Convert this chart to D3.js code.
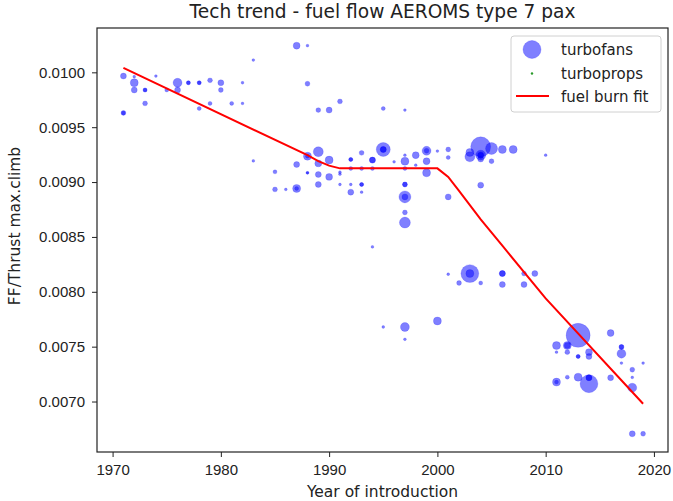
<!DOCTYPE html>
<html>
<head>
<meta charset="utf-8">
<script src="https://cdn.jsdelivr.net/npm/d3@7"></script>
<style>
  body { margin: 0; background: #fff; }
  svg { font-family: "DejaVu Sans", sans-serif; }
  .tick text { font-size: 15px; fill: #222; }
  .tick line { stroke: #222; }
</style>
</head>
<body>
<div id="chart"></div>
<script>
(function(d3) {
  'use strict';

  // turbofans: year of introduction, FF/Thrust at max climb, bubble size
  var tfYear = [
    1971, 1971, 1971, 1972, 1972, 1972, 1973, 1973, 1973, 1974, 1975, 1976, 1976,
    1977, 1977, 1978, 1978, 1978, 1979, 1979, 1980, 1980, 1981, 1982, 1982, 1983, 1983,
    1985, 1985, 1986, 1987, 1987, 1987, 1987, 1988, 1988, 1988, 1988, 1988, 1988,
    1989, 1989, 1989, 1989, 1989, 1990, 1990, 1990, 1991, 1991, 1991, 1991,
    1992, 1992, 1992, 1992, 1992, 1993, 1993, 1993, 1993, 1993,
    1994, 1994, 1994, 1994, 1995, 1995, 1995, 1995, 1995, 1996,
    1997, 1997, 1997, 1997, 1997, 1997, 1997, 1997, 1997, 1997, 1997, 1997,
    1998, 1998, 1999, 1999, 1999, 1999, 2000, 2000,
    2001, 2001, 2001, 2001, 2002, 2003, 2003, 2003, 2003,
    2004, 2004, 2004, 2004, 2004, 2004, 2004, 2005, 2005,
    2006, 2006, 2006, 2006, 2007, 2008, 2008, 2009, 2010,
    2011, 2011, 2011, 2011, 2012, 2012, 2012, 2012, 2013, 2013, 2013, 2013,
    2014, 2014, 2014, 2014, 2014, 2016, 2016, 2017, 2017, 2017, 2017,
    2018, 2018, 2018, 2018, 2019, 2019
  ];
  var tfFF = [
    0.009966, 0.00963, 0.00963, 0.009905, 0.00996, 0.009839, 0.009839, 0.009839, 0.009717, 0.009966, 0.009839, 0.009905, 0.009839,
    0.009905, 0.009905, 0.009905, 0.009905, 0.00967, 0.009927, 0.009717, 0.009905, 0.009839, 0.009717, 0.009905, 0.009717, 0.010112, 0.009193,
    0.009093, 0.008933, 0.008933, 0.010243, 0.00916, 0.008942, 0.008942, 0.010243, 0.009896, 0.009236, 0.009236, 0.009084, 0.009084,
    0.009656, 0.009276, 0.00917, 0.009069, 0.008978, 0.009656, 0.0092, 0.009047, 0.009735, 0.00909, 0.009072, 0.008978,
    0.009206, 0.009206, 0.009124, 0.008978, 0.008908, 0.009266, 0.009124, 0.008978, 0.008978, 0.008908,
    0.0092, 0.0092, 0.009124, 0.008409, 0.00967, 0.009297, 0.009297, 0.009297, 0.007679, 0.009184,
    0.009656, 0.00919, 0.009245, 0.008978, 0.008978, 0.008865, 0.008865, 0.008723, 0.008631, 0.007679, 0.007567, 0.009124,
    0.009245, 0.009154, 0.009285, 0.009285, 0.00919, 0.009084, 0.009282, 0.007734,
    0.009297, 0.009224, 0.008865, 0.00816, 0.00808, 0.00923, 0.00927, 0.008166, 0.008166,
    0.009321, 0.009245, 0.009245, 0.009245, 0.00921, 0.008972, 0.00808, 0.009306, 0.00919,
    0.009297, 0.008166, 0.008166, 0.008066, 0.009297, 0.008166, 0.008066, 0.008166, 0.009245,
    0.00751, 0.00745, 0.007177, 0.007177, 0.00751, 0.00751, 0.00745, 0.007222, 0.007603, 0.007411, 0.007411, 0.007222,
    0.00745, 0.007411, 0.007217, 0.007217, 0.007162, 0.007624, 0.007217, 0.007497, 0.007497, 0.007436, 0.00735,
    0.00729, 0.00722, 0.007126, 0.006706, 0.00735, 0.006706
  ];
  var tfSize = [
    9, 6, 4, 16, 2, 9, 4, 4, 6, 2, 4, 20, 9,
    4, 4, 4, 4, 4, 6, 4, 9, 6, 4, 2, 2, 2, 2,
    4, 6, 2, 12, 9, 16, 4, 2, 6, 16, 4, 2, 2,
    6, 25, 12, 9, 9, 9, 16, 12, 6, 2, 2, 2,
    4, 4, 4, 2, 9, 6, 4, 4, 4, 2,
    9, 9, 4, 2, 4, 49, 9, 9, 2, 2,
    2, 16, 2, 6, 6, 36, 9, 6, 30, 20, 2, 4,
    12, 2, 20, 6, 12, 16, 2, 16,
    6, 4, 9, 2, 6, 25, 16, 80, 16,
    100, 25, 9, 9, 9, 9, 4, 36, 6,
    16, 9, 9, 9, 16, 6, 9, 9, 2,
    16, 2, 16, 4, 16, 9, 6, 4, 144, 4, 4, 16,
    12, 9, 9, 9, 80, 12, 9, 6, 6, 20, 2,
    6, 2, 20, 9, 2, 6
  ];

  // turboprops: none visible in this class
  var tpYear = [];
  var tpFF = [];

  // fuel burn fit
  var fitYear = [1971, 1988, 1989, 1990, 1991, 2000, 2001, 2002, 2004, 2006, 2010, 2019];
  var fitFF = [0.01004, 0.009245, 0.00919, 0.00915, 0.009125, 0.009125, 0.009047, 0.00892, 0.00866, 0.00842, 0.00794, 0.00698];

  var xTicks = [1970, 1980, 1990, 2000, 2010, 2020];
  var yTicks = [0.0070, 0.0075, 0.0080, 0.0085, 0.0090, 0.0095, 0.0100];

  var width = 673;
  var height = 501;
  var margin = { top: 28, right: 5, bottom: 49, left: 97 };
  var plotW = width - margin.left - margin.right;
  var plotH = height - margin.top - margin.bottom;

  var svg = d3.select('#chart')
    .append('svg')
    .attr('width', width)
    .attr('height', height);

  var g = svg.append('g')
    .attr('transform', 'translate(' + margin.left + ',' + margin.top + ')');

  var x = d3.scaleLinear().domain([1968.56, 2021.3]).range([0, plotW]);
  var y = d3.scaleLinear().domain([0.006540, 0.010404]).range([plotH, 0]);
  var r = d3.scaleSqrt().domain([0, 144]).range([0, 12]);

  g.append('g')
    .attr('transform', 'translate(0,' + plotH + ')')
    .call(d3.axisBottom(x).tickValues(xTicks).tickFormat(d3.format('d')).tickSize(5).tickPadding(7))
    .call(function(a) { a.select('.domain').remove(); });

  g.append('g')
    .call(d3.axisLeft(y).tickValues(yTicks).tickFormat(d3.format('.4f')).tickSize(5).tickPadding(7))
    .call(function(a) { a.select('.domain').remove(); });

  var turbofans = tfYear.map(function(d, i) {
    return { year: d, ff: tfFF[i], size: tfSize[i] };
  });

  g.selectAll('.tf')
    .data(turbofans)
    .enter()
    .append('circle')
    .attr('class', 'tf')
    .attr('cx', function(d) { return x(d.year); })
    .attr('cy', function(d) { return y(d.ff); })
    .attr('r', function(d) { return r(d.size); })
    .attr('fill', 'blue')
    .attr('fill-opacity', 0.5)
    .attr('stroke', 'blue')
    .attr('stroke-opacity', 0.2)
    .attr('stroke-width', 0.8);

  g.selectAll('.tp')
    .data(tpYear.map(function(d, i) { return { year: d, ff: tpFF[i] }; }))
    .enter()
    .append('circle')
    .attr('class', 'tp')
    .attr('cx', function(d) { return x(d.year); })
    .attr('cy', function(d) { return y(d.ff); })
    .attr('r', 1.2)
    .attr('fill', 'green');

  var line = d3.line()
    .x(function(d) { return x(d[0]); })
    .y(function(d) { return y(d[1]); });

  g.append('path')
    .datum(fitYear.map(function(d, i) { return [d, fitFF[i]]; }))
    .attr('d', line)
    .attr('fill', 'none')
    .attr('stroke', 'red')
    .attr('stroke-width', 2);

  // frame
  g.append('rect')
    .attr('width', plotW)
    .attr('height', plotH)
    .attr('fill', 'none')
    .attr('stroke', '#222')
    .attr('stroke-width', 1.2);

  // legend
  var legend = g.append('g')
    .attr('transform', 'translate(' + (plotW - 157) + ',8)');

  legend.append('rect')
    .attr('width', 150)
    .attr('height', 76)
    .attr('rx', 3)
    .attr('fill', 'white')
    .attr('fill-opacity', 0.8)
    .attr('stroke', '#d0d0d0');

  legend.append('circle')
    .attr('cx', 21).attr('cy', 13.5).attr('r', 9)
    .attr('fill', 'blue').attr('fill-opacity', 0.5)
    .attr('stroke', 'blue').attr('stroke-opacity', 0.2);
  legend.append('circle')
    .attr('cx', 21).attr('cy', 37.5).attr('r', 1.2)
    .attr('fill', '#2a9a2a');
  legend.append('line')
    .attr('x1', 5).attr('x2', 38).attr('y1', 60).attr('y2', 60)
    .attr('stroke', 'red').attr('stroke-width', 2);

  var labels = ['turbofans', 'turboprops', 'fuel burn fit'];
  legend.selectAll('.lt')
    .data(labels)
    .enter()
    .append('text')
    .attr('class', 'lt')
    .attr('x', 50)
    .attr('y', function(d, i) { return 19 + i * 23.5; })
    .style('font-size', '15px')
    .style('fill', '#222')
    .text(function(d) { return d; });

  // titles
  svg.append('text')
    .attr('x', margin.left + plotW / 2)
    .attr('y', 18)
    .attr('text-anchor', 'middle')
    .style('font-size', '18.6px')
    .style('fill', '#222')
    .text('Tech trend - fuel flow AEROMS type 7 pax');

  svg.append('text')
    .attr('x', margin.left + plotW / 2)
    .attr('y', 496.5)
    .attr('text-anchor', 'middle')
    .style('font-size', '15.5px')
    .style('fill', '#222')
    .text('Year of introduction');

  svg.append('text')
    .attr('transform', 'translate(20,226) rotate(-90)')
    .attr('text-anchor', 'middle')
    .style('font-size', '15.5px')
    .style('fill', '#222')
    .text('FF/Thrust max.climb');

})(window.d3);
</script>
</body>
</html>
